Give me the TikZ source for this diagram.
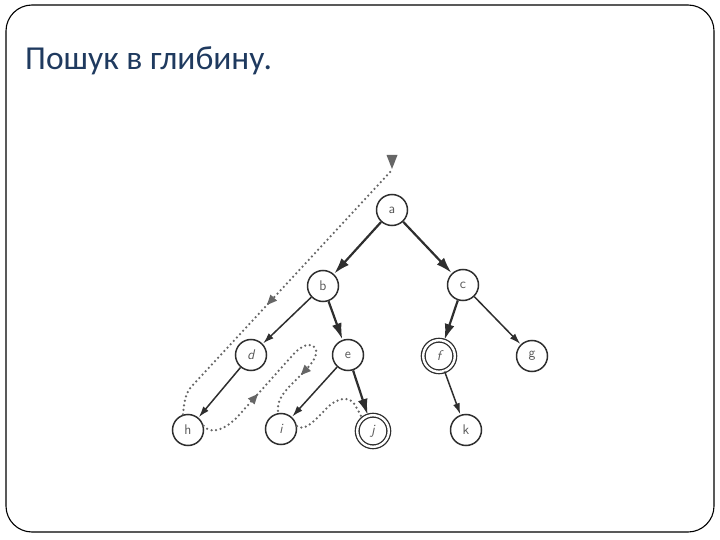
\documentclass[tikz,border=0pt]{standalone}
\usepackage{fontspec}
\setmainfont{Carlito}
\usetikzlibrary{arrows.meta,decorations.markings}
\definecolor{titleblue}{HTML}{1F3A5F}
\definecolor{ink}{HTML}{2E2E2E}
\definecolor{dotc}{HTML}{666666}
\tikzset{
  vert/.style={circle,draw=ink,line width=1.5pt,minimum size=31pt,inner sep=0pt,
    font=\sffamily\fontsize{14}{14}\selectfont,text=ink!80},
  dvert/.style={vert,line width=1.3pt,minimum size=31.6pt,double=white,double distance=2.4pt},
  thickedge/.style={draw=ink,line width=2.2pt,-{Latex[length=16pt,width=10pt]},shorten >=0.5pt},
  thinedge/.style={draw=ink,line width=1.5pt,-{Latex[length=11pt,width=7pt]},shorten >=0.5pt},
  trail/.style={draw=dotc,line width=2.5pt,line cap=round,dash pattern=on 0pt off 4.6pt},
  trailtip/.style={dotc,line width=0.5pt},
}
\begin{document}
\begin{tikzpicture}[x=1pt,y=-1pt]
\useasboundingbox (0,0) rectangle (720,540);
\draw[line width=1.1pt,rounded corners=26pt] (6,5) rectangle (714,532);
\node[anchor=base west,text=titleblue,font=\fontsize{33.5}{40}\selectfont,inner sep=0pt] (title) at (25,70) {Пошук в глибину.};

\node[vert] (a) at (392,210) {a};
\node[vert] (b) at (323,286) {b};
\node[vert] (c) at (463,285) {c};
\node[vert] (d) at (251,355) {\itshape d};
\node[vert] (e) at (348,355) {e};
\node[dvert] (f) at (439,356) {\itshape f};
\node[vert] (g) at (532,356) {g};
\node[vert] (h) at (188,430) {h};
\node[vert] (i) at (281,429) {\itshape i};
\node[dvert] (j) at (373,431) {\itshape j};
\node[vert] (k) at (466,430) {k};

\draw[thickedge] (a) -- (b);
\draw[thickedge] (a) -- (c);
\draw[thinedge] (b) -- (d);
\draw[thickedge] (b) -- (e);
\draw[thinedge] (d) -- (h);
\draw[thinedge] (e) -- (i);
\draw[thickedge] (e) -- (j);
\draw[thickedge] (c) -- (f);
\draw[thinedge] (c) -- (g);
\draw[thinedge] (f) -- (k);

% traversal trail
\coordinate (s) at (390,172);
\fill[trailtip] (386.5,155) -- (397.5,155) -- (392,169) -- cycle;
\draw[trail,postaction={decorate},decoration={markings,
   mark=at position 0.55 with {\fill[dotc] (4pt,0) -- (-6pt,4.5pt) -- (-6pt,-4.5pt) -- cycle;}}]
  (s) -- (191,387) .. controls (185,394) and (184,404) .. (h.108);
\draw[trail,postaction={decorate},decoration={markings,
   mark=at position 0.29 with {\fill[dotc] (4pt,0) -- (-6pt,4.5pt) -- (-6pt,-4.5pt) -- cycle;},
   mark=at position 0.78 with {\fill[dotc] (4pt,0) -- (-6pt,4.5pt) -- (-6pt,-4.5pt) -- cycle;}}]
  (h.15) .. controls (212,436) and (228,428) .. (240,414) -- (291,357)
  .. controls (300,346) and (312,340) .. (316,350)
  .. controls (319,360) and (300,375) .. (288,388)
  .. controls (279,398) and (277,405) .. (i.100);
\draw[trail] (i.10) .. controls (305,432) and (315,420) .. (325,410)
  .. controls (335,398) and (350,395) .. (355,405) -- (j.130);
\end{tikzpicture}
\end{document}
